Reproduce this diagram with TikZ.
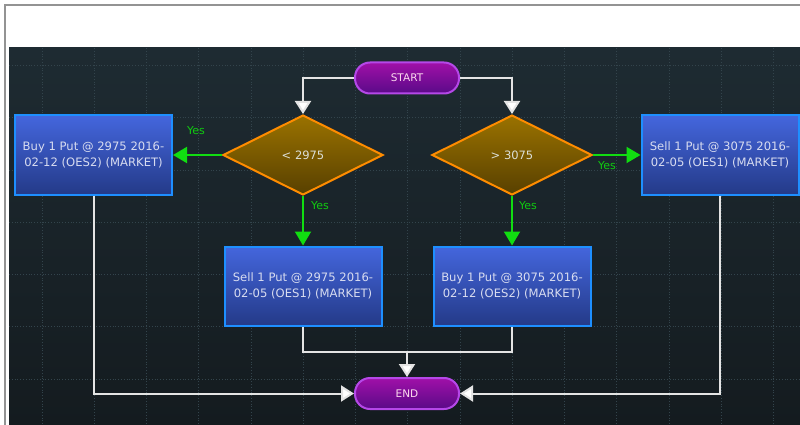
\documentclass[tikz,border=0pt]{standalone}
\usepackage{fontspec}
\setmainfont{DejaVu Sans}
\usetikzlibrary{shapes.geometric,arrows.meta}
\definecolor{bgtop}{HTML}{1E2B32}
\definecolor{bgbot}{HTML}{141B1F}
\definecolor{gridc}{HTML}{33444C}
\definecolor{boxtop}{HTML}{4466DD}
\definecolor{boxbot}{HTML}{243A88}
\definecolor{boxedge}{HTML}{1E8FFF}
\definecolor{diatop}{HTML}{9A7200}
\definecolor{diabot}{HTML}{584000}
\definecolor{diaedge}{HTML}{FF8C00}
\definecolor{termtop}{HTML}{A010A8}
\definecolor{termbot}{HTML}{5A0A88}
\definecolor{termedge}{HTML}{B548E8}
\definecolor{yesgreen}{HTML}{11DD11}
\definecolor{linec}{HTML}{E4E4E4}
\definecolor{txt}{HTML}{D8DCF0}
\tikzset{
  actbox/.style={rectangle, minimum width=157, minimum height=79, inner sep=2pt,
    top color=boxtop, bottom color=boxbot, draw=boxedge, line width=2pt,
    align=center, text=txt, font=\fontsize{11.6}{16}\selectfont},
  decbox/.style={diamond, minimum width=160, minimum height=80, inner sep=0pt, aspect=2,
    top color=diatop, bottom color=diabot, draw=diaedge, line width=2pt,
    text=txt!90!yellow, font=\fontsize{11.5}{13}\selectfont},
  termbox/.style={rectangle, rounded corners=15pt, minimum width=104, minimum height=31,
    top color=termtop, bottom color=termbot, draw=termedge, line width=2pt,
    text=white!85!magenta, font=\fontsize{10.5}{12}\selectfont},
  wline/.style={draw=linec, line width=2pt, -{Triangle[width=16pt,length=13pt,fill=white]}},
  wplain/.style={draw=linec, line width=2pt},
  gline/.style={draw=yesgreen, line width=2pt, -{Triangle[width=16pt,length=14pt,fill=yesgreen]}},
  yeslab/.style={text=yesgreen!92!black, font=\fontsize{11}{12}\selectfont, inner sep=0pt},
  gridline/.style={draw=gridc, dotted, line width=0.8pt}
}
\begin{document}
\begin{tikzpicture}[x=1pt,y=-1pt]
\useasboundingbox (0,0) rectangle (800,425);
\fill[white] (0,0) rectangle (800,425);
\draw[gray!85, line width=2pt] (5,425) -- (5,5) -- (800,5);
\shade[top color=bgtop, bottom color=bgbot] (9,48) rectangle (800,425);
\foreach \i in {0,...,14} \draw[gridline] ({42+52.25*\i},48) -- ({42+52.25*\i},425);
\foreach \j in {0,...,6} \draw[gridline] (9,{65.5+52.25*\j}) -- (800,{65.5+52.25*\j});

\node[termbox] (start) at (407,78) {START};
\node[decbox] (d1) at (303,155) {< 2975};
\node[decbox] (d2) at (512,155) {> 3075};
\node[actbox] (b1) at (93.5,155) {Buy 1 Put @ 2975 2016-\\02-12 (OES2) (MARKET)};
\node[actbox] (b2) at (720,155) {Sell 1 Put @ 3075 2016-\\02-05 (OES1) (MARKET)};
\node[actbox] (b3) at (303,286) {Sell 1 Put @ 2975 2016-\\02-05 (OES1) (MARKET)};
\node[actbox] (b4) at (512,286) {Buy 1 Put @ 3075 2016-\\02-12 (OES2) (MARKET)};
\node[termbox] (end) at (407,393.5) {END};
\coordinate (m) at (407,352);

\draw[wline] (start.west) -| (d1.north);
\draw[wline] (start.east) -| (d2.north);
\draw[gline] (d1.west) -- (b1.east);
\draw[gline] (d1.south) -- (b3.north);
\draw[gline] (d2.east) -- (b2.west);
\draw[gline] (d2.south) -- (b4.north);
\draw[wline] (b1.south) |- (end.west);
\draw[wline] (b2.south) |- (end.east);
\draw[wplain] (b3.south) |- (m) -| (b4.south);
\draw[wline] (m) -- (end.north);

\node[yeslab] (y1) at (196,131) {Yes};
\node[yeslab] (y2) at (320,206) {Yes};
\node[yeslab] (y3) at (607,166) {Yes};
\node[yeslab] (y4) at (528,206) {Yes};
\end{tikzpicture}
\end{document}
